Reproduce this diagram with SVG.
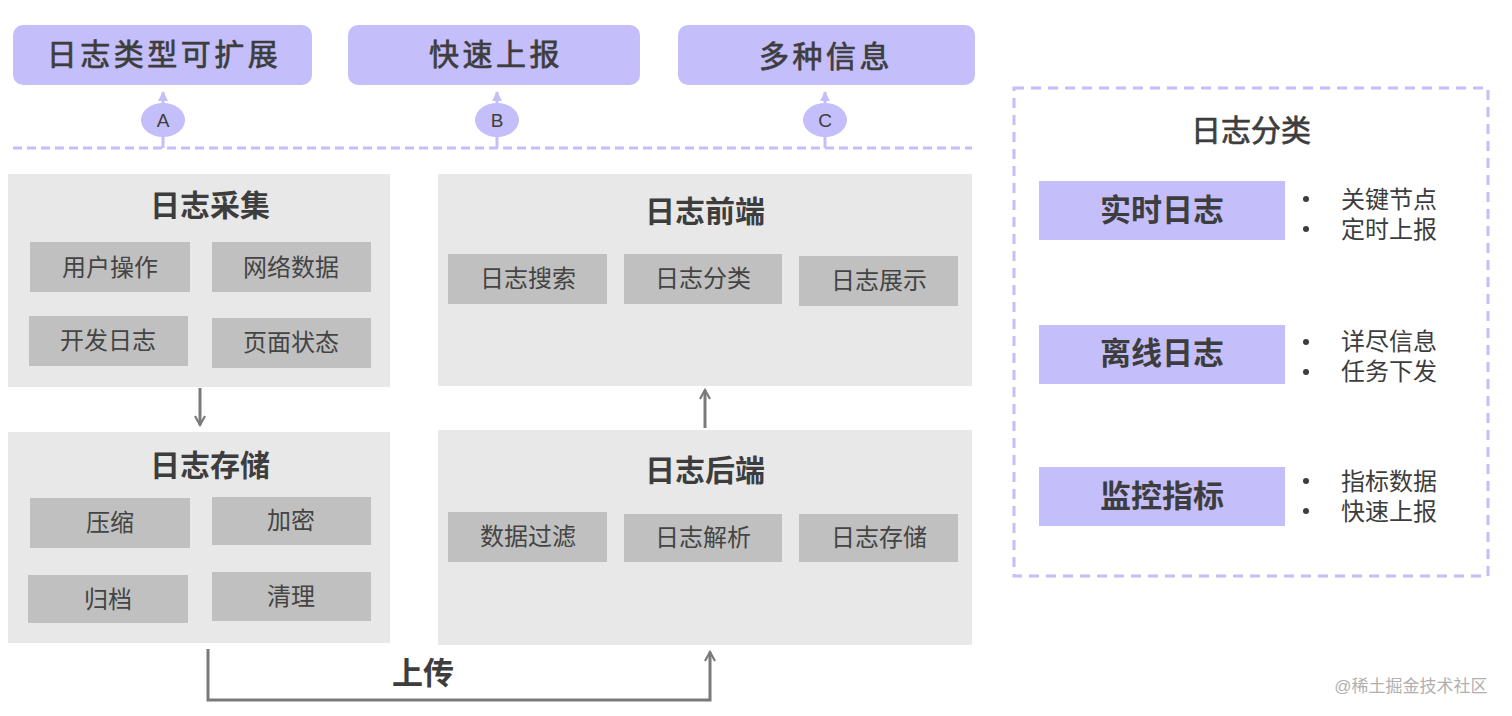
<svg xmlns="http://www.w3.org/2000/svg" width="1512" height="716" viewBox="0 0 1512 716">
<defs>
<style>
text{font-family:"Liberation Sans","Noto Sans CJK SC",sans-serif;fill:#3d3d3d;text-anchor:middle;dominant-baseline:central}
.top{fill:#c4befa}
.tt{font-size:30px;letter-spacing:3.5px;stroke:#3d3d3d;stroke-width:0.7px}
.panel{fill:#e8e8e8}
.sub{fill:#c0c0c0}
.pt{font-size:30px;font-weight:bold}
.st{font-size:24px;fill:#444}
.cat{fill:#c4befa}
.ct{font-size:31px;font-weight:bold}
.bl{font-size:24px;text-anchor:start}
.conn{stroke:#7a7a7a;stroke-width:3;fill:none}
.pconn{stroke:#c4befa;stroke-width:3;fill:none}
.oval{fill:#c4befa}
.ol{font-size:19px}
</style>
<marker id="ah" viewBox="0 0 12 12" refX="10" refY="6" markerWidth="12" markerHeight="12" markerUnits="userSpaceOnUse" orient="auto">
<path d="M1,1 L10,6 L1,11" fill="none" stroke="#7a7a7a" stroke-width="2.2"/>
</marker>
<marker id="ph" viewBox="0 0 10 10" refX="9" refY="5" markerWidth="10" markerHeight="10" markerUnits="userSpaceOnUse" orient="auto">
<path d="M0,0 L10,5 L0,10 Z" fill="#c4befa"/>
</marker>
</defs>

<g id="top-boxes">
<g id="t1"><rect class="top" x="13" y="25" width="299" height="60" rx="10"/><text class="tt" x="164" y="54">日志类型可扩展</text></g>
<g id="t2"><rect class="top" x="348" y="25" width="292" height="60" rx="10"/><text class="tt" x="496" y="54">快速上报</text></g>
<g id="t3"><rect class="top" x="678" y="25" width="297" height="60" rx="10"/><text class="tt" x="826" y="56">多种信息</text></g>
</g>

<g id="connectors">
<line class="pconn" x1="13" y1="148" x2="972" y2="148" stroke-dasharray="9,5"/>
<line class="pconn" x1="163" y1="148" x2="163" y2="92" marker-end="url(#ph)"/>
<line class="pconn" x1="497" y1="148" x2="497" y2="92" marker-end="url(#ph)"/>
<line class="pconn" x1="825" y1="148" x2="825" y2="92" marker-end="url(#ph)"/>
<line class="conn" x1="200" y1="388" x2="200" y2="425" marker-end="url(#ah)"/>
<line class="conn" x1="705" y1="428" x2="705" y2="390" marker-end="url(#ah)"/>
<polyline class="conn" points="208,649 208,700 710,700 710,652" marker-end="url(#ah)"/>
<text class="pt" x="423" y="673" style="font-size:31px">上传</text>
</g>

<g id="ovals">
<g id="oA"><ellipse class="oval" cx="163" cy="120" rx="22" ry="17"/><text class="ol" x="163" y="120">A</text></g>
<g id="oB"><ellipse class="oval" cx="497" cy="120" rx="22" ry="17"/><text class="ol" x="497" y="120">B</text></g>
<g id="oC"><ellipse class="oval" cx="825" cy="120" rx="22" ry="17"/><text class="ol" x="825" y="120">C</text></g>
</g>

<g id="collect">
<rect class="panel" x="8" y="174" width="382" height="213"/>
<text class="pt" x="210" y="205">日志采集</text>
<rect class="sub" x="30" y="242" width="160" height="50"/><text class="st" x="110" y="267">用户操作</text>
<rect class="sub" x="212" y="242" width="159" height="50"/><text class="st" x="291" y="267">网络数据</text>
<rect class="sub" x="29" y="316" width="159" height="50"/><text class="st" x="108" y="340">开发日志</text>
<rect class="sub" x="212" y="318" width="159" height="50"/><text class="st" x="291" y="342">页面状态</text>
</g>

<g id="storage">
<rect class="panel" x="8" y="432" width="382" height="211"/>
<text class="pt" x="210" y="465">日志存储</text>
<rect class="sub" x="30" y="498" width="160" height="50"/><text class="st" x="110" y="522">压缩</text>
<rect class="sub" x="212" y="497" width="159" height="48"/><text class="st" x="291" y="520">加密</text>
<rect class="sub" x="28" y="575" width="160" height="48"/><text class="st" x="108" y="599">归档</text>
<rect class="sub" x="212" y="572" width="159" height="49"/><text class="st" x="291" y="596">清理</text>
</g>

<g id="frontend">
<rect class="panel" x="438" y="174" width="534" height="212"/>
<text class="pt" x="705" y="211">日志前端</text>
<rect class="sub" x="448" y="254" width="159" height="50"/><text class="st" x="528" y="278">日志搜索</text>
<rect class="sub" x="624" y="254" width="158" height="50"/><text class="st" x="703" y="278">日志分类</text>
<rect class="sub" x="799" y="256" width="159" height="50"/><text class="st" x="879" y="280">日志展示</text>
</g>

<g id="backend">
<rect class="panel" x="438" y="430" width="534" height="215"/>
<text class="pt" x="705" y="470">日志后端</text>
<rect class="sub" x="448" y="512" width="159" height="50"/><text class="st" x="528" y="536">数据过滤</text>
<rect class="sub" x="624" y="514" width="158" height="48"/><text class="st" x="703" y="537">日志解析</text>
<rect class="sub" x="799" y="514" width="159" height="48"/><text class="st" x="879" y="537">日志存储</text>
</g>

<g id="categories">
<rect x="1014" y="88" width="474" height="488" fill="none" stroke="#c4befa" stroke-width="3" stroke-dasharray="10,7"/>
<text x="1251" y="130" style="font-size:30px;stroke:#3d3d3d;stroke-width:0.7px">日志分类</text>
<g id="c1">
<rect class="cat" x="1039" y="181" width="246" height="59"/><text class="ct" x="1162" y="210">实时日志</text>
<circle cx="1306" cy="199" r="3" fill="#3d3d3d"/><circle cx="1306" cy="229" r="3" fill="#3d3d3d"/>
<text class="bl" x="1341" y="199">关键节点</text><text class="bl" x="1341" y="229">定时上报</text>
</g>
<g id="c2">
<rect class="cat" x="1039" y="325" width="246" height="59"/><text class="ct" x="1162" y="353">离线日志</text>
<circle cx="1306" cy="342" r="3" fill="#3d3d3d"/><circle cx="1306" cy="372" r="3" fill="#3d3d3d"/>
<text class="bl" x="1341" y="341">详尽信息</text><text class="bl" x="1341" y="371">任务下发</text>
</g>
<g id="c3">
<rect class="cat" x="1039" y="467" width="246" height="59"/><text class="ct" x="1162" y="496">监控指标</text>
<circle cx="1306" cy="481" r="3" fill="#3d3d3d"/><circle cx="1306" cy="511" r="3" fill="#3d3d3d"/>
<text class="bl" x="1341" y="481">指标数据</text><text class="bl" x="1341" y="511">快速上报</text>
</g>
</g>

<text x="1411" y="686" style="font-size:17px;fill:#b0b0b0">@稀土掘金技术社区</text>
</svg>
